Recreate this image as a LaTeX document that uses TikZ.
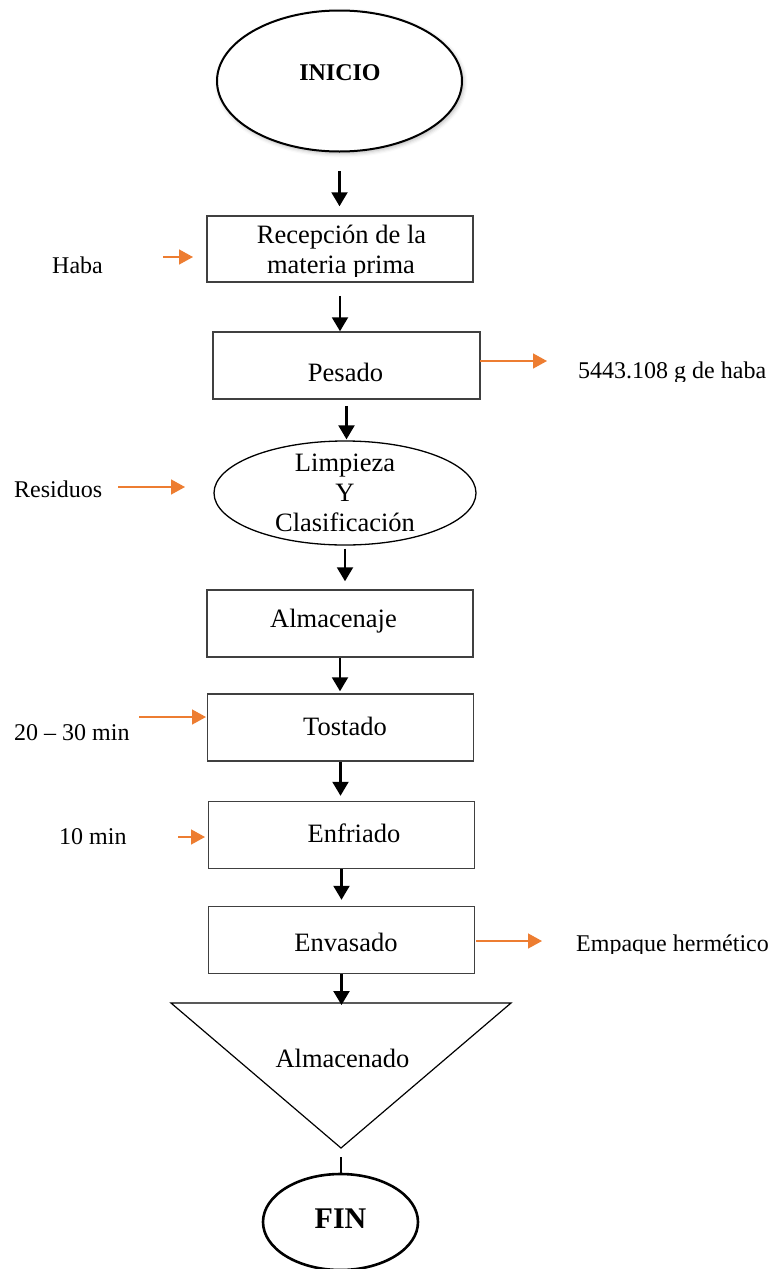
\documentclass[tikz,border=0pt]{standalone}
\usepackage{fontspec}
\setmainfont{Liberation Serif}
\usetikzlibrary{arrows.meta,shapes.geometric,shadows.blur}
\definecolor{naranja}{HTML}{ED7D31}
\definecolor{borde}{HTML}{404040}
\newcommand\fuenteA{\fontsize{26.5}{30}\selectfont}
\newcommand\fuenteB{\fontsize{24}{28}\selectfont}
\begin{document}
\begin{tikzpicture}[x=1pt,y=-1pt,
  caja/.style={draw=borde,line width=1.5pt,rectangle,minimum height=67pt,inner sep=0pt},
  elipse/.style={draw=black,ellipse,inner sep=0pt},
  txt/.style={anchor=base,font=\fuenteA,inner sep=0pt},
  lado/.style={anchor=base west,font=\fuenteB,inner sep=0pt},
  flecha/.style={draw=black,line width=2.2pt,-{Triangle[length=14pt,width=16pt]}},
  flechana/.style={draw=naranja,line width=1.5pt,-{Triangle[length=14pt,width=15pt]}}]
\useasboundingbox (0,0) rectangle (771,1269);

% start / end terminals
\node[elipse,fill=white,line width=2pt,minimum width=245pt,minimum height=141pt,
      blur shadow={shadow xshift=1.5pt,shadow yshift=-2pt,shadow blur radius=4pt,shadow opacity=30}]
      (ini) at (339.5,81) {};
\node[anchor=base,inner sep=0pt,font=\fontsize{24}{28}\selectfont\bfseries] (ini-t) at (340,80) {INICIO};

\node[elipse,line width=2.6pt,minimum width=155pt,minimum height=96pt] (fin) at (340.5,1222) {};
\node[anchor=base,inner sep=0pt,font=\fontsize{30}{34}\selectfont\bfseries] (fin-t) at (340.5,1228) {FIN};

% process boxes
\node[caja,minimum width=266pt,minimum height=66pt] (rec) at (340,249) {};
\begin{scope}
  \clip (200,216) rectangle (480,276);
  \node[txt] (rec-1) at (341.5,243) {Recepción de la};
  \node[txt] (rec-2) at (341,273) {materia prima};
\end{scope}

\node[caja,minimum width=267pt] (pes) at (346.5,365.5) {};
\node[txt] (pes-t) at (345.5,381) {Pesado};

\node[elipse,line width=1.3pt,minimum width=262pt,minimum height=104pt] (lim) at (345,493) {};
\node[txt] (lim-1) at (345,471) {Limpieza};
\node[txt] (lim-2) at (345,501) {Y};
\node[txt] (lim-3) at (345,531) {Clasificación};

\node[caja,minimum width=266pt] (alm) at (340,623.5) {};
\node[txt] (alm-t) at (333.5,627) {Almacenaje};

\node[caja,minimum width=266pt] (tos) at (340.5,727.5) {};
\node[txt] (tos-t) at (345,735) {Tostado};

\node[caja,minimum width=266pt] (enf) at (341.5,835) {};
\node[txt] (enf-t) at (354,842) {Enfriado};

\node[caja,minimum width=266pt] (env) at (341.5,940) {};
\node[txt] (env-t) at (346,951) {Envasado};

% storage triangle
\coordinate (tri-l) at (171,1003);
\coordinate (tri-r) at (511,1003);
\coordinate (tri-a) at (341,1148);
\coordinate (tri-top) at (343,1003);
\draw[line width=1.2pt] (tri-l) -- (tri-r) -- (tri-a) -- cycle;
\node[txt] (tri-t) at (342.5,1067) {Almacenado};

% main flow
\draw[flecha,shorten <=18.5pt,shorten >=9pt] (ini.south) -- (ini.south |- rec.north);
\draw[flecha,shorten <=13pt] (rec.south) -- (rec.south |- pes.north);
\draw[flecha,shorten <=6pt,shorten >=1pt] (pes.south) -- (pes.south |- lim.north);
\draw[flecha,shorten <=3pt,shorten >=8pt] (lim.south) -- (lim.south |- alm.north);
\draw[flecha,shorten >=2pt] (alm.south) -- (alm.south |- tos.north);
\draw[flecha,shorten >=5pt] (tos.south) -- (tos.south |- enf.north);
\draw[flecha,shorten >=6pt] (enf.south) -- (enf.south |- env.north);
\draw[flecha,shorten >=-2pt] (env.south) -- (env.south |- tri-top);
\draw[line width=2.2pt,shorten <=9pt] (tri-a) -- (tri-a |- fin.north);

% side inputs and outputs
\node[lado] (haba) at (52,273) {Haba};
\coordinate (haba-a) at (163,257);
\coordinate (haba-b) at (193,257);
\draw[flechana] (haba-a) -- (haba-b);

\begin{scope}
  \clip (560,330) rectangle (771,381);
  \node[lado] (peso) at (578,378) {5443.108 g de haba};
\end{scope}
\coordinate (peso-a) at (480,361);
\coordinate (peso-b) at (547,361);
\draw[flechana] (peso-a) -- (peso-b);

\node[lado] (res) at (14,497) {Residuos};
\coordinate (res-a) at (118,487);
\coordinate (res-b) at (185,487);
\draw[flechana] (res-a) -- (res-b);

\node[lado] (t1) at (14,740) {20 – 30 min};
\coordinate (t1-a) at (139,717);
\coordinate (t1-b) at (206,717);
\draw[flechana] (t1-a) -- (t1-b);

\node[lado] (t2) at (59,844) {10 min};
\coordinate (t2-a) at (178,837);
\coordinate (t2-b) at (205,837);
\draw[flechana] (t2-a) -- (t2-b);

\begin{scope}
  \clip (560,910) rectangle (771,953);
  \node[lado] (emp) at (576,951) {Empaque hermético};
\end{scope}
\coordinate (emp-a) at (476,941);
\coordinate (emp-b) at (542,941);
\draw[flechana] (emp-a) -- (emp-b);
\end{tikzpicture}
\end{document}
